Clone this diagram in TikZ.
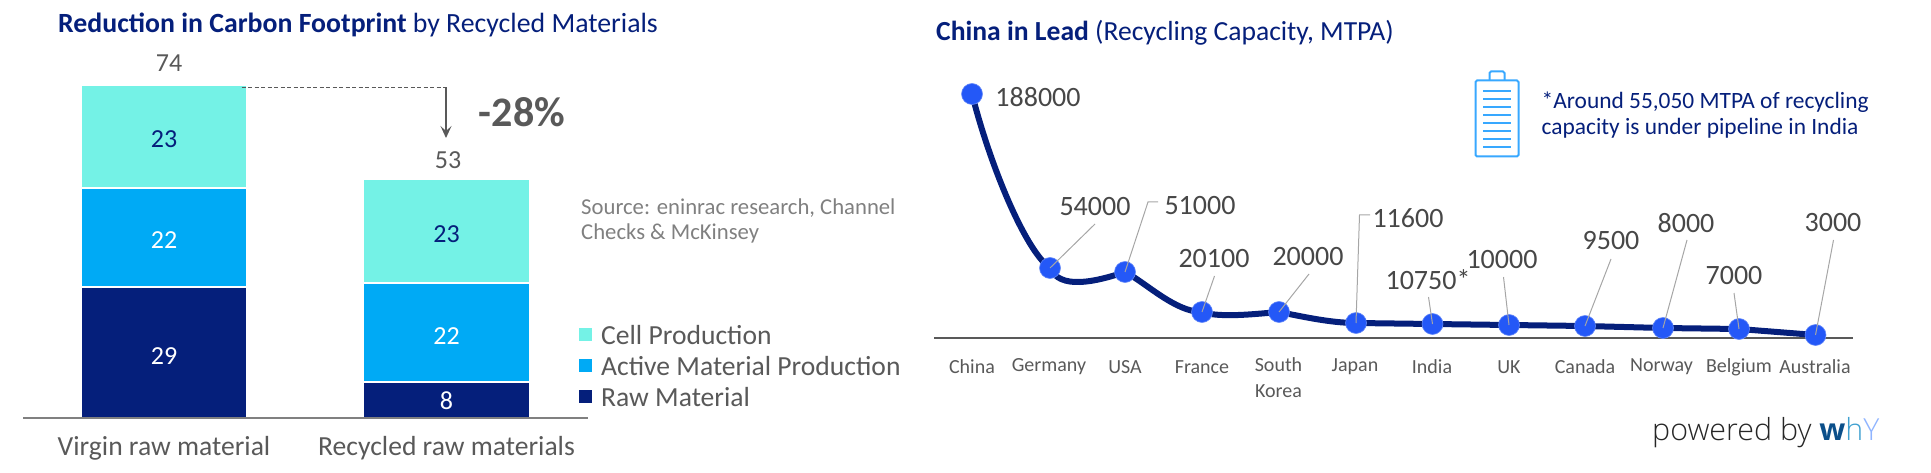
\documentclass[tikz,border=0pt]{standalone}
\usepackage{fontspec}
\setmainfont{Carlito}
\newfontfamily\logofont[UprightFont={* Light}]{Open Sans}
\newfontfamily\logobold{Open Sans}
\usetikzlibrary{arrows.meta}
\definecolor{navy}{HTML}{051F7B}
\definecolor{sky}{HTML}{00AAF5}
\definecolor{aqua}{HTML}{74F2E6}
\definecolor{dotblue}{HTML}{2458F7}
\definecolor{ink}{HTML}{595959}
\definecolor{battery}{HTML}{38A8FF}
\tikzset{
  bar/.style={inner sep=0pt,minimum width=#1,text height=23pt,font=\fontsize{26}{30}\selectfont},
  dot/.style={circle,fill=dotblue,draw=dotblue!70,line width=0.6pt,inner sep=0pt,minimum size=21pt},
  leader/.style={draw=black!35,line width=1pt},
  value/.style={text=black!72,inner sep=0pt,font=\fontsize{28}{32}\selectfont},
  country/.style={text=ink,inner sep=0pt,font=\fontsize{20}{24}\selectfont},
  legendbox/.style={inner sep=0pt,minimum size=13pt},
  legendtext/.style={text=ink,inner sep=0pt,anchor=base west,font=\fontsize{27.6}{30}\selectfont}
}

\begin{document}
\begin{tikzpicture}[x=1pt,y=-1pt,>={Stealth[length=12pt,width=11pt,inset=5pt]}]
\useasboundingbox (0,0) rectangle (1931,473);
% left panel
\node[anchor=base west,inner sep=0pt,text=navy,font=\fontsize{27.8}{30}\selectfont] (titleleft) at (58,33)
    {\textbf{Reduction in Carbon Footprint} by Recycled Materials};
\node[bar=164pt,minimum height=101pt,fill=aqua,text=navy] (cellvirgin) at (164,136.5) {23};
\node[bar=164pt,minimum height=97pt,fill=sky,text=white] (activevirgin) at (164,237.5) {22};
\node[bar=164pt,minimum height=129pt,fill=navy,text=white] (rawvirgin) at (164,352.5) {29};
\node[bar=165pt,minimum height=102pt,fill=aqua,text=navy] (cellrecycled) at (446.5,231) {23};
\node[bar=165pt,minimum height=97pt,fill=sky,text=white] (activerecycled) at (446.5,332.5) {22};
\node[bar=165pt,minimum height=34pt,fill=navy,text=white,text height=20pt] (rawrecycled) at (446.5,400) {8};
\node[inner sep=0pt,text=ink,font=\fontsize{26}{30}\selectfont] (totalvirgin) at (169,63) {74};
\node[inner sep=0pt,text=ink,font=\fontsize{26}{30}\selectfont] (totalrecycled) at (448,160) {53};
\coordinate (dropstart) at (241.5,87.5);
\coordinate (dropcorner) at (446,87.5);
\coordinate (dropend) at (446,138);
\draw[ink,line width=0.8pt,dash pattern=on 4pt off 2.5pt] (dropstart) -- (dropcorner);
\draw[->,ink,line width=1.1pt] (dropcorner) -- (dropend);
\node[inner sep=0pt,text=ink,font=\fontsize{42}{46}\selectfont\bfseries] (reduction) at (522,112) {-28\%};
\node[anchor=north west,inner sep=0pt,align=left,text=black!50,font=\fontsize{22.7}{24.5}\selectfont] (source) at (581,199)
    {Source: eninrac research, Channel\\Checks \& McKinsey};
\node[legendbox,fill=aqua] (legendcell) at (585.5,334.5) {};
\node[legendbox,fill=sky] (legendactive) at (585.5,365.5) {};
\node[legendbox,fill=navy] (legendraw) at (585.5,396.5) {};
\node[legendtext] (textcell) at (601,344) {Cell Production};
\node[legendtext] (textactive) at (601,375) {Active Material Production};
\node[legendtext] (textraw) at (601,406) {Raw Material};
\coordinate (baseleft) at (23,418);
\coordinate (baseright) at (588,418);
\draw[black!50,line width=1.5pt] (baseleft) -- (baseright);
\node[legendtext,anchor=base] (labelvirgin) at (164,455) {Virgin raw material};
\node[legendtext,anchor=base] (labelrecycled) at (446.5,455) {Recycled raw materials};
% right panel
\node[anchor=base west,inner sep=0pt,text=navy,font=\fontsize{27.6}{30}\selectfont] (titleright) at (936,41)
    {\textbf{China in Lead} (Recycling Capacity, MTPA)};
\coordinate (axisleft) at (934,338);
\coordinate (axisright) at (1853,338);
\draw[ink,line width=1.5pt] (axisleft) -- (axisright);
\coordinate (china) at (972,94);
\coordinate (germany) at (1050,268);
\coordinate (usa) at (1125,272);
\coordinate (france) at (1202,312);
\coordinate (korea) at (1279,312);
\coordinate (japan) at (1356,323);
\coordinate (india) at (1432.5,324);
\coordinate (uk) at (1509,325);
\coordinate (canada) at (1585,326);
\coordinate (norway) at (1663,328);
\coordinate (belgium) at (1739,329);
\coordinate (australia) at (1815.5,335);
\draw[navy,line width=6pt,line join=round] (china)
    .. controls (990,165) and (1025,250) .. (germany)
    .. controls (1060,290) and (1095,282) .. (usa)
    .. controls (1145,282) and (1175,312) .. (france)
    .. controls (1220,318) and (1255,314) .. (korea)
    .. controls (1300,316) and (1330,323) .. (japan)
    -- (india) -- (uk) -- (canada) -- (norway) -- (belgium) -- (australia);
\node[dot] (dotchina) at (china) {};
\node[dot] (dotgermany) at (germany) {};
\node[dot] (dotusa) at (usa) {};
\node[dot] (dotfrance) at (france) {};
\node[dot] (dotkorea) at (korea) {};
\node[dot] (dotjapan) at (japan) {};
\node[dot] (dotindia) at (india) {};
\node[dot] (dotuk) at (uk) {};
\node[dot] (dotcanada) at (canada) {};
\node[dot] (dotnorway) at (norway) {};
\node[dot] (dotbelgium) at (belgium) {};
\node[dot] (dotaustralia) at (australia) {};
\node[value] (valchina) at (1038,97) {188000};
\node[value] (valgermany) at (1095,207) {54000};
\node[value] (valusa) at (1200,206) {51000};
\node[value] (valfrance) at (1214,259) {20100};
\node[value] (valkorea) at (1308,257) {20000};
\node[value] (valjapan) at (1408,218) {11600};
\node[value] (valindia) at (1428,280) {10750*};
\node[value] (valuk) at (1502,260) {10000};
\node[value] (valcanada) at (1611,241) {9500};
\node[value] (valnorway) at (1686,223) {8000};
\node[value] (valbelgium) at (1734,276) {7000};
\node[value] (valaustralia) at (1833,223) {3000};
\coordinate (tipgermany) at (1095,224);
\coordinate (bendusa) at (1148,202);
\coordinate (tipusa) at (1158,202);
\coordinate (tipfrance) at (1214.5,276);
\coordinate (tipkorea) at (1309,274);
\coordinate (bendjapan) at (1359.5,215);
\coordinate (tipjapan) at (1370,215);
\coordinate (tipindia) at (1428.5,297);
\coordinate (tipuk) at (1503.5,277);
\coordinate (tipcanada) at (1611,259);
\coordinate (tipnorway) at (1687,240);
\coordinate (tipbelgium) at (1734,293);
\coordinate (tipaustralia) at (1833.5,240);
\draw[leader] (germany) -- (tipgermany);
\draw[leader] (usa) -- (bendusa) -- (tipusa);
\draw[leader] (france) -- (tipfrance);
\draw[leader] (korea) -- (tipkorea);
\draw[leader] (japan) -- (bendjapan) -- (tipjapan);
\draw[leader] (india) -- (tipindia);
\draw[leader] (uk) -- (tipuk);
\draw[leader] (canada) -- (tipcanada);
\draw[leader] (norway) -- (tipnorway);
\draw[leader] (belgium) -- (tipbelgium);
\draw[leader] (australia) -- (tipaustralia);
\node[country] (namechina) at (972,367) {China};
\node[country] (namegermany) at (1049,367) {Germany};
\node[country] (nameusa) at (1125,367) {USA};
\node[country] (namefrance) at (1202,367) {France};
\node[country,align=center,anchor=north,font=\fontsize{20}{26}\selectfont] (namekorea) at (1278.5,357) {South\\Korea};
\node[country] (namejapan) at (1355,367) {Japan};
\node[country] (nameindia) at (1432,367) {India};
\node[country] (nameuk) at (1509,367) {UK};
\node[country] (namecanada) at (1585,367) {Canada};
\node[country] (namenorway) at (1661.5,367) {Norway};
\node[country] (namebelgium) at (1739,367) {Belgium};
\node[country] (nameaustralia) at (1815,367) {Australia};
% battery icon
\node[draw=battery,line width=2pt,rounded corners=1.5pt,inner sep=0pt,minimum width=43pt,minimum height=76pt] (batterybody) at (1497,118.5) {};
\draw[battery,line width=2pt,rounded corners=1.5pt] (1489.5,80) -- (1489.5,71.5) -- (1504.5,71.5) -- (1504.5,80);
\draw[battery,line width=2pt] (1483,90.7) -- (1511,90.7) (1483,98.7) -- (1511,98.7)
    (1483,106.7) -- (1511,106.7) (1483,114.7) -- (1511,114.7)
    (1483,122.7) -- (1511,122.7) (1483,130.7) -- (1511,130.7)
    (1483,138.7) -- (1511,138.7) (1483,146.7) -- (1511,146.7);
\node[anchor=north west,inner sep=0pt,align=left,text=navy,font=\fontsize{23.4}{26}\selectfont] (batterynote) at (1541.5,92)
    {*Around 55,050 MTPA of recycling\\capacity is under pipeline in India};
\node[anchor=base west,inner sep=0pt,text=black!85,font=\fontsize{30.4}{32}\selectfont\logofont] (poweredby) at (1652,440)
    {powered by \textcolor[HTML]{0B4F8A}{\logobold\bfseries w}\textcolor[HTML]{3FA0D0}{h}\textcolor[HTML]{8FB4FF}{Y}};
\end{tikzpicture}
\end{document}
